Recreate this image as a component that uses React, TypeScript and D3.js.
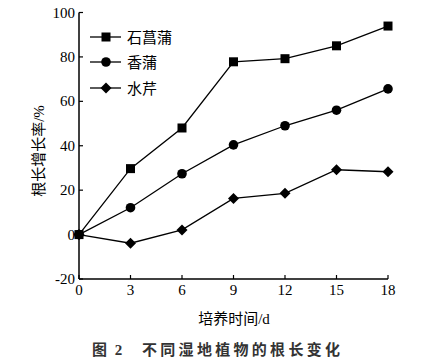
import React from "react";
import * as d3 from "d3";

const days = [0, 3, 6, 9, 12, 15, 18];
const acorus = [0, 29.7, 48, 77.8, 79.2, 85, 93.9];
const typha = [0, 12.1, 27.4, 40.4, 49, 56, 65.6];
const oenanthe = [0, -3.9, 2.1, 16.3, 18.6, 29.2, 28.3];
const seriesNames = ["石菖蒲", "香蒲", "水芹"];
const xTicks = [0, 3, 6, 9, 12, 15, 18];
const yTicks = [-20, 0, 20, 40, 60, 80, 100];

const W = 430, H = 364;
const serif = "'Liberation Serif', 'Times New Roman', 'Noto Sans CJK SC', serif";
const cjk = "'Liberation Serif', 'Noto Sans CJK SC', serif";

function Marker({ type, x, y }: { type: string; x: number; y: number }) {
  if (type === "square") return <rect x={x - 4.5} y={y - 4.5} width={9} height={9} fill="#000" />;
  if (type === "circle") return <circle cx={x} cy={y} r={4.8} fill="#000" />;
  const s = 5.5;
  return <path d={`M${x},${y - s}L${x + s},${y}L${x},${y + s}L${x - s},${y}Z`} fill="#000" />;
}

export default function App() {
  const x = d3.scaleLinear().domain([0, 18]).range([79, 388]);
  const y = d3.scaleLinear().domain([-20, 100]).range([279, 12.5]);
  const line = d3.line<number>().x((_, i) => x(days[i])).y((d) => y(d));
  const data = [acorus, typha, oenanthe];
  const markers = ["square", "circle", "diamond"];
  const legendY = [37, 62, 88];
  return (
    <svg width={W} height={H} style={{ position: "absolute", left: 0, top: 0, background: "#fff" }}>
      <rect width={W} height={H} fill="#fff" />
      {/* axes */}
      <line x1={x(0)} x2={x(0)} y1={y(100)} y2={y(-20)} stroke="#000" strokeWidth={1.5} />
      <line x1={x(0)} x2={x(18)} y1={y(-20)} y2={y(-20)} stroke="#000" strokeWidth={1.5} />
      {yTicks.map((t) => (
        <g key={"y" + t}>
          <line x1={x(0)} x2={x(0) + 4} y1={y(t)} y2={y(t)} stroke="#000" strokeWidth={1.2} />
          <text x={x(0) - 4} y={y(t) + 5} textAnchor="end" fontFamily={serif} fontSize={15} fill="#000">
            {t}
          </text>
        </g>
      ))}
      {xTicks.map((t) => (
        <g key={"x" + t}>
          <line x1={x(t)} x2={x(t)} y1={y(-20)} y2={y(-20) - 4} stroke="#000" strokeWidth={1.2} />
          <text x={x(t)} y={y(-20) + 16} textAnchor="middle" fontFamily={serif} fontSize={15} fill="#000">
            {t}
          </text>
        </g>
      ))}
      {/* series */}
      {data.map((s, k) => (
        <g key={"s" + k}>
          <path d={line(s) || ""} fill="none" stroke="#000" strokeWidth={1.3} />
          {s.map((v, i) => (
            <Marker key={i} type={markers[k]} x={x(days[i])} y={y(v)} />
          ))}
        </g>
      ))}
      {/* legend */}
      {seriesNames.map((n, k) => (
        <g key={"l" + k}>
          <line x1={90} x2={121} y1={legendY[k]} y2={legendY[k]} stroke="#000" strokeWidth={1.3} />
          <Marker type={markers[k]} x={106} y={legendY[k]} />
          <text x={127} y={legendY[k] + 5.5} fontFamily={cjk} fontSize={15} fill="#000">
            {n}
          </text>
        </g>
      ))}
      {/* axis titles */}
      <text
        transform={`translate(44,${151}) rotate(-90)`}
        textAnchor="middle"
        fontFamily={cjk}
        fontSize={15}
        fill="#000"
      >
        根长增长率/%
      </text>
      <text x={234} y={324} textAnchor="middle" fontFamily={cjk} fontSize={15} fill="#000">
        培养时间/d
      </text>
      <text x={92} y={355} fontFamily={cjk} fontSize={15} fontWeight="bold" fill="#333" letterSpacing={2}>
        图 2
      </text>
      <text x={142} y={355} fontFamily={cjk} fontSize={15} fontWeight="bold" fill="#333" letterSpacing={3.3}>
        不同湿地植物的根长变化
      </text>
    </svg>
  );
}
